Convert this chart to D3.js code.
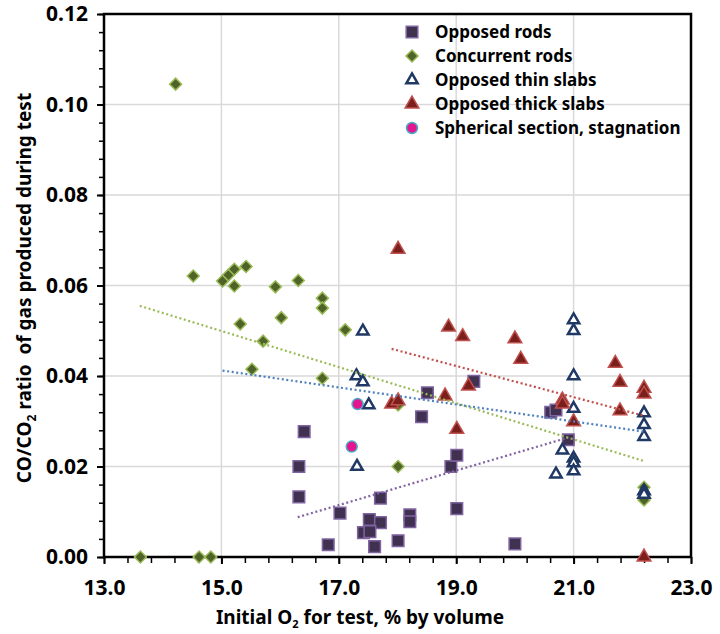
<!DOCTYPE html>
<html>
<head>
<meta charset="utf-8">
<script src="https://cdn.jsdelivr.net/npm/d3@7"></script>
<style>
  body { margin: 0; background: #fff; }
  text { font-family: "Noto Sans", "Open Sans", sans-serif; font-weight: bold; white-space: pre; }
</style>
</head>
<body>
<svg id="chart" width="720" height="634"></svg>
<script>
// series values
var rodsX = [16.41, 16.32, 16.32, 17.02, 16.82, 17.52, 17.71, 17.71, 17.42, 17.53, 17.61, 18.01, 18.21, 18.21, 18.41, 18.51, 18.91, 19.30, 19.01, 19.01, 20.00, 20.61, 20.70, 20.91];
var rodsY = [0.0277, 0.0200, 0.0133, 0.0097, 0.0027, 0.0083, 0.0076, 0.0130, 0.0054, 0.0056, 0.0023, 0.0036, 0.0093, 0.0078, 0.0310, 0.0363, 0.0200, 0.0388, 0.0225, 0.0107, 0.0029, 0.0320, 0.0325, 0.0259];

var concX = [14.22, 14.52, 15.02, 15.12, 15.22, 15.42, 15.22, 15.92, 16.31, 16.72, 16.72, 15.32, 16.02, 17.11, 15.71, 15.52, 16.72, 18.01, 18.01, 13.62, 14.62, 14.82, 22.2, 22.2];
var concY = [0.1045, 0.0621, 0.0610, 0.0623, 0.0636, 0.0642, 0.0599, 0.0597, 0.0611, 0.0572, 0.0550, 0.0515, 0.0529, 0.0502, 0.0477, 0.0415, 0.0395, 0.0336, 0.0200, 0, 0, 0, 0.0154, 0.0126];

var thinX = [17.41, 17.30, 17.41, 17.51, 17.31, 21.0, 21.0, 21.0, 21.0, 20.81, 20.70, 21.0, 21.0, 21.0, 22.2, 22.2, 22.2, 22.2, 22.2];
var thinY = [0.0499, 0.0400, 0.0387, 0.0336, 0.0200, 0.0524, 0.0500, 0.0400, 0.0328, 0.0236, 0.0183, 0.0218, 0.0208, 0.0190, 0.0318, 0.0292, 0.0266, 0.0146, 0.0138];

var thickX = [18.01, 18.87, 19.11, 18.81, 17.90, 18.01, 19.21, 19.01, 20.00, 20.10, 20.81, 20.81, 21.0, 21.71, 21.79, 21.79, 22.2, 22.2, 22.2];
var thickY = [0.0680, 0.0508, 0.0487, 0.0356, 0.0338, 0.0345, 0.0378, 0.0282, 0.0482, 0.0437, 0.0347, 0.0338, 0.0299, 0.0428, 0.0386, 0.0323, 0.0373, 0.0360, 0];

var sphX = [17.32, 17.22];
var sphY = [0.0338, 0.0244];

// trend line end points (x0, x1 / y0, y1)
var trendRodsX = [16.30, 20.91], trendRodsY = [0.0088, 0.0264];
var trendConcX = [13.61, 22.2], trendConcY = [0.0555, 0.0212];
var trendThinX = [15.02, 22.2], trendThinY = [0.0412, 0.0277];
var trendThickX = [17.90, 22.2], trendThickY = [0.0460, 0.0312];

var xTicks = [13, 15, 17, 19, 21, 23];
var yTicks = [0, 0.02, 0.04, 0.06, 0.08, 0.10, 0.12];
var legendNames = ["Opposed rods", "Concurrent rods", "Opposed thin slabs", "Opposed thick slabs", "Spherical section, stagnation"];

function main() {
  var svg = d3.select("#chart");
  var left = 104, right = 691, top = 14, bottom = 557;

  var x = d3.scaleLinear().domain([13, 23]).range([left, right]);
  var y = d3.scaleLinear().domain([0, 0.12]).range([bottom, top]);

  // gridlines
  svg.append("g").selectAll("line").data(yTicks.slice(1, -1)).enter().append("line")
    .attr("x1", left).attr("x2", right)
    .attr("y1", d => y(d)).attr("y2", d => y(d))
    .attr("stroke", "#d9d9d9").attr("stroke-width", 1.5);
  svg.append("g").selectAll("line").data(xTicks.slice(1, -1)).enter().append("line")
    .attr("y1", top).attr("y2", bottom)
    .attr("x1", d => x(d)).attr("x2", d => x(d))
    .attr("stroke", "#d9d9d9").attr("stroke-width", 1.5);

  // minor ticks
  var xMinor = d3.range(13, 23.001, 0.4);
  var yMinor = d3.range(0, 0.1201, 0.004);
  svg.append("g").attr("transform", "translate(0," + bottom + ")")
    .call(d3.axisBottom(x).tickValues(xMinor).tickSize(6).tickFormat(""))
    .call(g => g.select(".domain").remove())
    .selectAll("line").attr("stroke", "#000").attr("stroke-width", 1.5);
  svg.append("g").attr("transform", "translate(" + left + ",0)")
    .call(d3.axisLeft(y).tickValues(yMinor).tickSize(5).tickFormat(""))
    .call(g => g.select(".domain").remove())
    .selectAll("line").attr("stroke", "#000").attr("stroke-width", 1.5);

  // major axes
  var xAxis = svg.append("g").attr("transform", "translate(0," + bottom + ")")
    .call(d3.axisBottom(x).tickValues(xTicks).tickSize(7).tickPadding(16).tickFormat(d3.format(".1f")));
  xAxis.select(".domain").remove();
  xAxis.selectAll("line").attr("stroke", "#000").attr("stroke-width", 2);
  xAxis.selectAll("text").attr("font-size", 21).attr("fill", "#000")
    .style("font-family", "'Noto Sans', sans-serif").style("font-weight", "bold");

  var yAxis = svg.append("g").attr("transform", "translate(" + left + ",0)")
    .call(d3.axisLeft(y).tickValues(yTicks).tickSize(7).tickPadding(9).tickFormat(d3.format(".2f")));
  yAxis.select(".domain").remove();
  yAxis.selectAll("line").attr("stroke", "#000").attr("stroke-width", 2);
  yAxis.selectAll("text").attr("font-size", 21).attr("fill", "#000")
    .style("font-family", "'Noto Sans', sans-serif").style("font-weight", "bold");

  // frame
  svg.append("rect").attr("x", left).attr("y", top)
    .attr("width", right - left).attr("height", bottom - top)
    .attr("fill", "none").attr("stroke", "#000").attr("stroke-width", 2.5);

  var sq = d3.symbol().type(d3.symbolSquare).size(135);
  var dia = d3.symbol().type(d3.symbolSquare).size(72);
  var tri = d3.symbol().type(d3.symbolTriangle).size(55);
  var triBig = d3.symbol().type(d3.symbolTriangle).size(82);
  var circ = d3.symbol().type(d3.symbolCircle).size(95);

  var styles = [
    { xs: rodsX, ys: rodsY, path: sq(), rot: 0, fill: "#403151", stroke: "#8064a2", sw: 1.5 },
    { xs: concX, ys: concY, path: dia(), rot: 45, fill: "#4f6228", stroke: "#9bbb59", sw: 1.5 },
    { xs: thinX, ys: thinY, path: tri(), rot: 0, fill: "#fff", stroke: "#1f3864", sw: 2.5 },
    { xs: thickX, ys: thickY, path: triBig(), rot: 0, fill: "#7b1f1c", stroke: "#c0504d", sw: 1.5 },
    { xs: sphX, ys: sphY, path: circ(), rot: 0, fill: "#e5148f", stroke: "#4bacc6", sw: 1.5 }
  ];

  styles.forEach(function (s) {
    svg.append("g").selectAll("path").data(d3.range(s.xs.length)).enter().append("path")
      .attr("d", s.path)
      .attr("transform", i => "translate(" + x(s.xs[i]) + "," + y(s.ys[i]) + ") rotate(" + s.rot + ")")
      .attr("fill", s.fill).attr("stroke", s.stroke).attr("stroke-width", s.sw);
  });

  // trend lines
  var trends = [
    [trendRodsX, trendRodsY, "#8064a2"],
    [trendConcX, trendConcY, "#9bbb59"],
    [trendThinX, trendThinY, "#4f81bd"],
    [trendThickX, trendThickY, "#c0504d"]
  ];
  var line = d3.line().x(d => x(d[0])).y(d => y(d[1]));
  trends.forEach(function (t) {
    svg.append("path").datum(d3.zip(t[0], t[1]))
      .attr("d", line).attr("fill", "none").attr("stroke", t[2])
      .attr("stroke-width", 2.2).attr("stroke-dasharray", "2 2.6");
  });

  // legend
  var lg = svg.append("g");
  legendNames.forEach(function (name, i) {
    var ly = 32 + i * 24;
    var s = styles[i];
    lg.append("path").attr("d", s.path)
      .attr("transform", "translate(412," + ly + ") rotate(" + s.rot + ")")
      .attr("fill", s.fill).attr("stroke", s.stroke).attr("stroke-width", s.sw);
    lg.append("text").attr("x", 435).attr("y", ly + 6).attr("font-size", 17).text(name);
  });

  // axis titles
  var xt = svg.append("text").attr("x", 360).attr("y", 624).attr("text-anchor", "middle").attr("font-size", 19);
  xt.append("tspan").text("Initial O");
  xt.append("tspan").attr("font-size", 11).attr("dy", 4).text("2");
  xt.append("tspan").attr("dy", -4).text(" for test, % by volume");

  var yt = svg.append("text").attr("transform", "translate(31,288) rotate(-90)")
    .attr("text-anchor", "middle").attr("font-size", 19);
  yt.append("tspan").text("CO/CO");
  yt.append("tspan").attr("font-size", 12).attr("dy", 5).text("2");
  yt.append("tspan").attr("dy", -5).text(" ratio  of gas produced during test");
}
main();
</script>
</body>
</html>
